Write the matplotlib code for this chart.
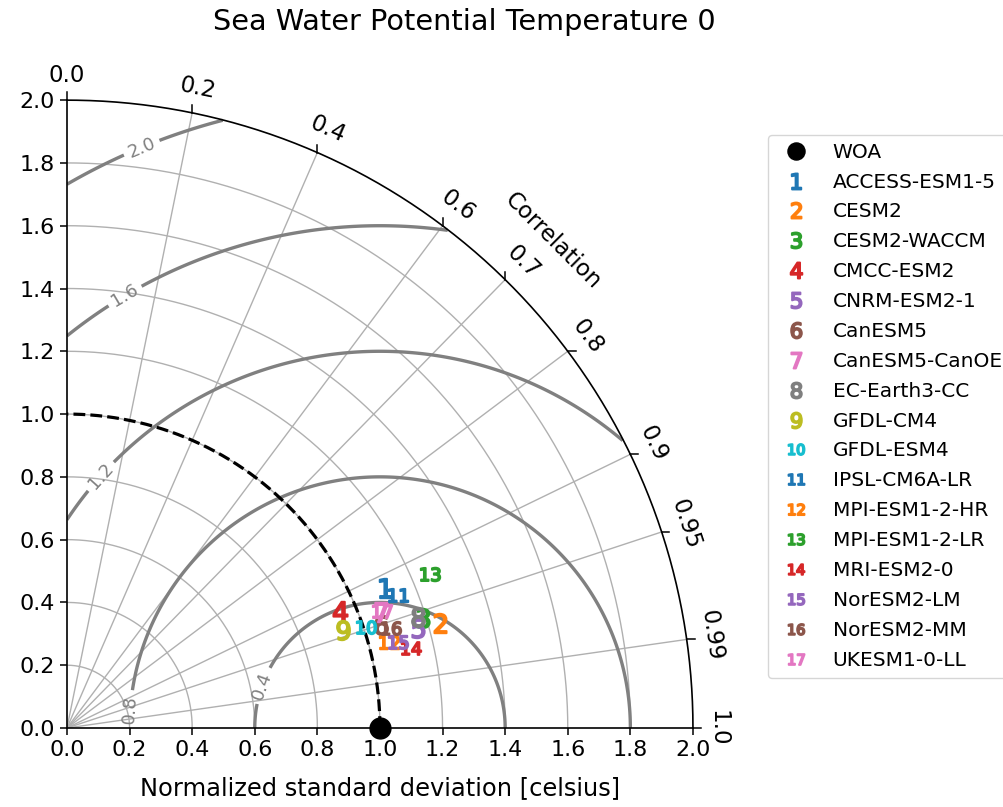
import numpy as np
import matplotlib
matplotlib.use("Agg")
import matplotlib.pyplot as plt

# Taylor diagram values (std normalised by the WOA std)
models = [
    "ACCESS-ESM1-5", "CESM2", "CESM2-WACCM", "CMCC-ESM2", "CNRM-ESM2-1",
    "CanESM5", "CanESM5-CanOE", "EC-Earth3-CC", "GFDL-CM4", "GFDL-ESM4",
    "IPSL-CM6A-LR", "MPI-ESM1-2-HR", "MPI-ESM1-2-LR", "MRI-ESM2-0",
    "NorESM2-LM", "NorESM2-MM", "UKESM1-0-LL",
]
norm_std = [1.109, 1.239, 1.189, 0.949, 1.166, 1.055, 1.070, 1.176, 0.934,
            1.008, 1.140, 1.065, 1.259, 1.130, 1.091, 1.082, 1.074]
corr = [0.916, 0.963, 0.956, 0.919, 0.962, 0.950, 0.938, 0.954, 0.943,
        0.948, 0.928, 0.966, 0.921, 0.974, 0.968, 0.956, 0.938]

ref_name = "WOA"
ref_std = 1.0
std_max = 2.0
std_grid = [0.2, 0.4, 0.6, 0.8, 1.0, 1.2, 1.4, 1.6, 1.8]
corr_ticks = [0.0, 0.2, 0.4, 0.6, 0.7, 0.8, 0.9, 0.95, 0.99, 1.0]
rms_levels = [0.4, 0.8, 1.2, 1.6, 2.0]
rms_label_pos = [(0.62, 0.137), (0.2, 0.06), (0.11, 0.80), (0.185, 1.377), (0.238, 1.85)]

GRID = "#b0b0b0"
RMS = "#808080"
colors = plt.rcParams["axes.prop_cycle"].by_key()["color"]

fig = plt.figure(figsize=(10.04, 8.07), dpi=100)
ax = fig.add_axes([0.0667, 0.0979, 0.6235, 0.778])
ax.set_xlim(0, std_max)
ax.set_ylim(0, std_max)
ax.spines["top"].set_visible(False)
ax.spines["right"].set_visible(False)
for s in ("left", "bottom"):
    ax.spines[s].set_linewidth(1.2)
ticks = np.round(np.arange(0, 2.01, 0.2), 1)
ax.set_xticks(ticks)
ax.set_yticks(ticks)
ax.tick_params(labelsize=16, length=5, width=1.1)

# std arcs and correlation rays
th = np.linspace(0, np.pi / 2, 300)
for s in std_grid:
    ax.plot(s * np.cos(th), s * np.sin(th), color=GRID, lw=1, zorder=1)
for c in corr_ticks[1:-1]:
    t = np.arccos(c)
    ax.plot([0, std_max * np.cos(t)], [0, std_max * np.sin(t)], color=GRID, lw=1, zorder=1)

# outer arc with correlation ticks and labels
ax.plot(std_max * np.cos(th), std_max * np.sin(th), color="black", lw=1.2, clip_on=False, zorder=3)
for c in corr_ticks:
    t = np.arccos(c)
    x0, y0 = std_max * np.cos(t), std_max * np.sin(t)
    if t > np.pi / 4:
        ax.plot([x0, x0], [y0, y0 + 0.025], color="black", lw=1.1, clip_on=False)
    else:
        ax.plot([x0, x0 + 0.025], [y0, y0], color="black", lw=1.1, clip_on=False)
    r = 2.08
    ax.text(r * np.cos(t), r * np.sin(t), f"{c:g}" if c not in (0.0, 1.0) else f"{c:.1f}",
            rotation=np.degrees(t) - 90, rotation_mode="anchor", ha="center", va="center",
            fontsize=16.5)
ax.text(2.195 * np.cos(np.pi / 4), 2.195 * np.sin(np.pi / 4), "Correlation",
        rotation=-45, rotation_mode="anchor", ha="center", va="center", fontsize=16.5)

# centred RMS difference contours
xs = np.linspace(0, std_max, 500)
X, Y = np.meshgrid(xs, xs)
rms = np.hypot(X - ref_std, Y)
rms = np.ma.masked_where(np.hypot(X, Y) > std_max, rms)
cs = ax.contour(X, Y, rms, levels=rms_levels, colors=RMS, linewidths=2.4, zorder=2)
ax.clabel(cs, inline=True, fmt="%.1f", fontsize=13, manual=rms_label_pos)

# reference std arc and point
ax.plot(ref_std * np.cos(th), ref_std * np.sin(th), color="black", ls="--", lw=2.3, zorder=4)
ax.plot([ref_std], [0], "o", color="black", ms=15, clip_on=False, zorder=6, label=ref_name)

for i, (name, s, c) in enumerate(zip(models, norm_std, corr)):
    t = np.arccos(c)
    col = colors[i % len(colors)]
    ax.plot(s * np.cos(t), s * np.sin(t), marker=f"${i + 1}$", ls="none", ms=14,
            color=col, mec=col, mew=1.4, zorder=5, label=name)

ax.legend(loc="upper left", bbox_to_anchor=(1.12, 0.945), borderaxespad=0,
          fontsize=14.5, markerscale=0.82, labelspacing=0.54, handletextpad=0.8)
ax.set_xlabel("Normalized standard deviation [celsius]", fontsize=17.4, labelpad=12)
fig.text(0.462, 0.9727, "Sea Water Potential Temperature 0", ha="center", va="center", fontsize=20.7)

fig.savefig("out.png", dpi=100)
